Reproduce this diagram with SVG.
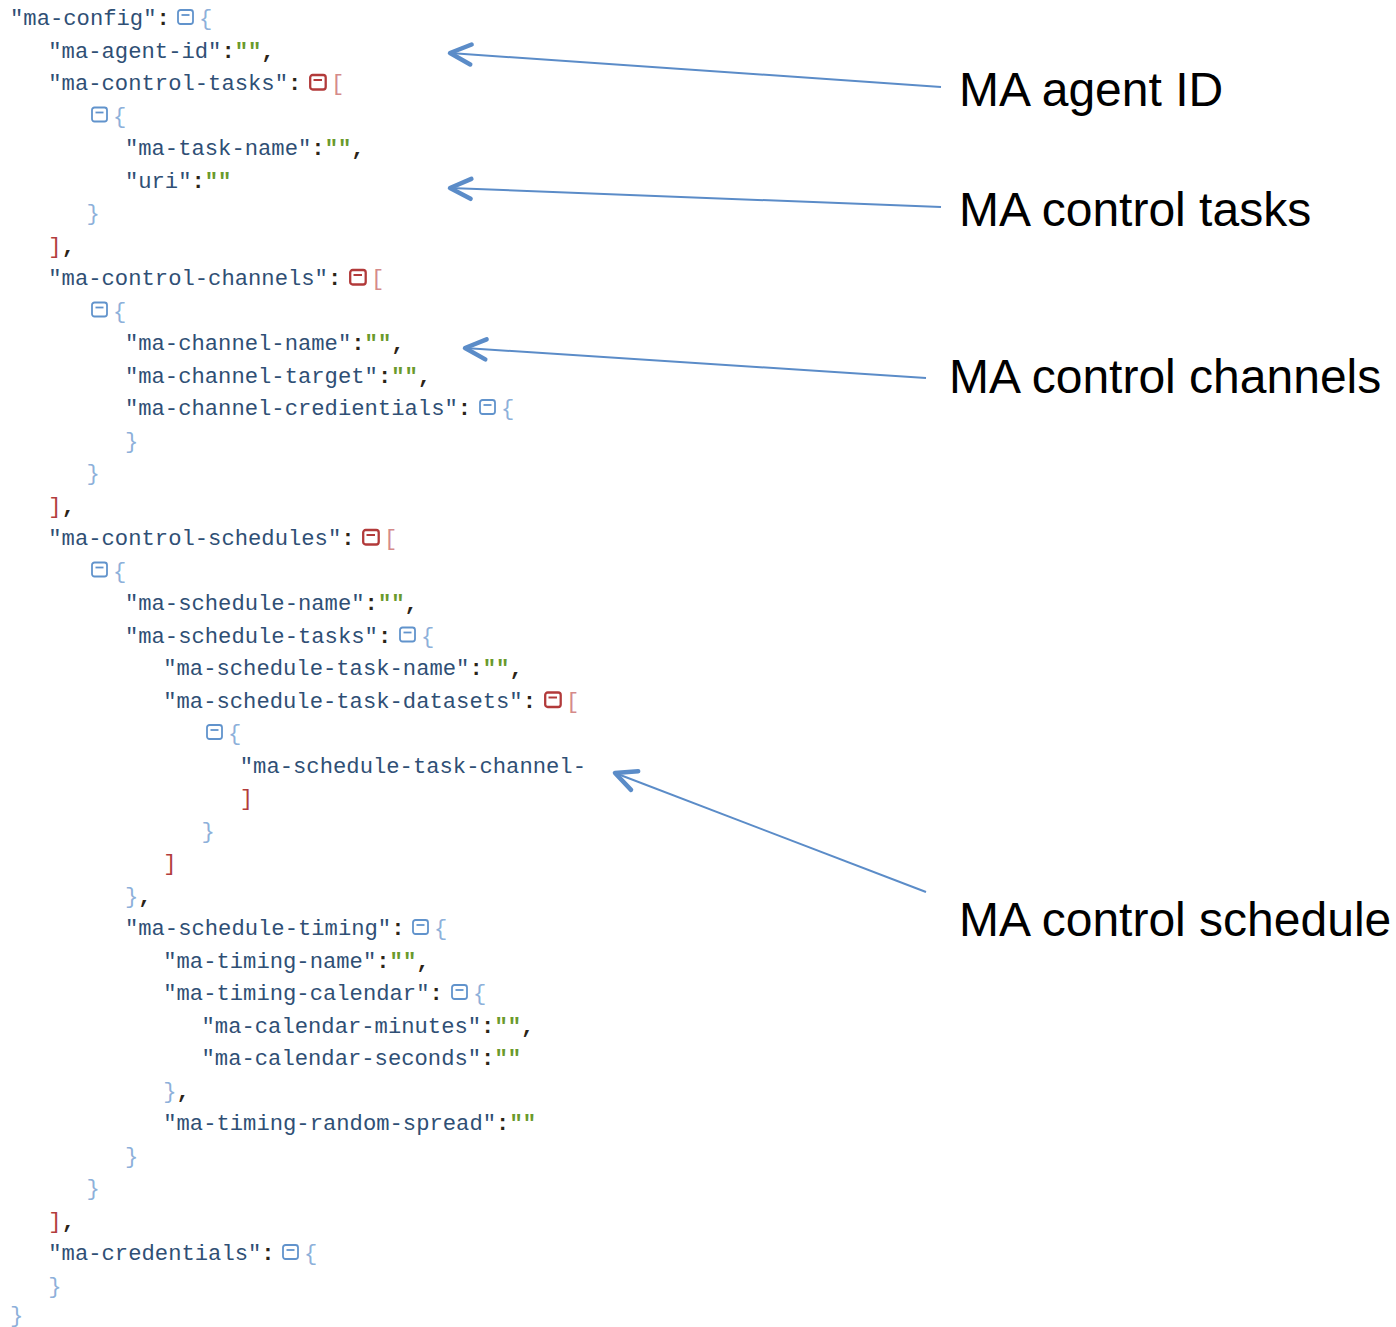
<svg xmlns="http://www.w3.org/2000/svg" xmlns:xlink="http://www.w3.org/1999/xlink" width="1396" height="1327" viewBox="0 0 1396 1327">
  <style>
    .code { font-family: "Liberation Mono", "Courier New", monospace; font-size: 22.2px; }
    .k { fill: #2f4f75; }
    .p { fill: #2b2418; font-weight: bold; }
    .s { fill: #6a9a2c; font-weight: bold; }
    .b { fill: #8db0da; }
    .r { fill: #b23c3c; }
    .ro { fill: #d58a8a; }
    .label { font-family: "Liberation Sans", Arial, sans-serif; font-size: 48px; fill: #000; }
    .conn { stroke: #5b8cc8; stroke-width: 2; fill: none; }
  </style>
  <defs>
    <!-- collapse toggles: object (blue) and array (red) -->
    <g id="tog-o">
      <rect x="1" y="1" width="15" height="14" rx="2.5" fill="#fff" stroke="#6193cc" stroke-width="1.8"/>
      <line x1="4.5" y1="6" x2="12.5" y2="6" stroke="#6193cc" stroke-width="1.8"/>
    </g>
    <g id="tog-a">
      <rect x="1.2" y="1" width="15.5" height="14.5" rx="2.5" fill="#fff" stroke="#b23a3a" stroke-width="2.3"/>
      <line x1="4.5" y1="6" x2="13" y2="6" stroke="#b23a3a" stroke-width="2"/>
    </g>
    <marker id="chev" viewBox="-28 -14 32 28" refX="0" refY="0" markerWidth="32" markerHeight="28" markerUnits="userSpaceOnUse" orient="auto" overflow="visible">
      <path d="M -21,-10 L 0,0 L -21,10" fill="none" stroke="#5b8cc8" stroke-width="4.5" stroke-linecap="round" stroke-linejoin="round"/>
    </marker>
  </defs>

  <rect width="1396" height="1327" fill="#fff"/>

  <!-- JSON tree -->
  <g id="json-tree" class="code">
    <text x="10" y="25"><tspan class="k">"ma-config"</tspan><tspan class="p">:</tspan></text>
    <use xlink:href="#tog-o" x="177" y="9"/>
    <text x="199" y="25" class="b">{</text>

    <text x="48.3" y="57.5"><tspan class="k">"ma-agent-id"</tspan><tspan class="p">:</tspan><tspan class="s">""</tspan><tspan class="p">,</tspan></text>

    <text x="48.3" y="90"><tspan class="k">"ma-control-tasks"</tspan><tspan class="p">:</tspan></text>
    <use xlink:href="#tog-a" x="309" y="74"/>
    <text x="331" y="90" class="ro">[</text>

    <use xlink:href="#tog-o" x="91" y="106.5"/>
    <text x="113" y="122.5" class="b">{</text>

    <text x="124.9" y="155"><tspan class="k">"ma-task-name"</tspan><tspan class="p">:</tspan><tspan class="s">""</tspan><tspan class="p">,</tspan></text>
    <text x="124.9" y="187.5"><tspan class="k">"uri"</tspan><tspan class="p">:</tspan><tspan class="s">""</tspan></text>
    <text x="86.6" y="220" class="b">}</text>
    <text x="48.3" y="252.5"><tspan class="r">]</tspan><tspan class="p">,</tspan></text>

    <text x="48.3" y="285"><tspan class="k">"ma-control-channels"</tspan><tspan class="p">:</tspan></text>
    <use xlink:href="#tog-a" x="349" y="269"/>
    <text x="371" y="285" class="ro">[</text>

    <use xlink:href="#tog-o" x="91" y="301.5"/>
    <text x="113" y="317.5" class="b">{</text>

    <text x="124.9" y="350"><tspan class="k">"ma-channel-name"</tspan><tspan class="p">:</tspan><tspan class="s">""</tspan><tspan class="p">,</tspan></text>
    <text x="124.9" y="382.5"><tspan class="k">"ma-channel-target"</tspan><tspan class="p">:</tspan><tspan class="s">""</tspan><tspan class="p">,</tspan></text>
    <text x="124.9" y="415"><tspan class="k">"ma-channel-credientials"</tspan><tspan class="p">:</tspan></text>
    <use xlink:href="#tog-o" x="479" y="399"/>
    <text x="501" y="415" class="b">{</text>
    <text x="124.9" y="447.5" class="b">}</text>
    <text x="86.6" y="480" class="b">}</text>
    <text x="48.3" y="512.5"><tspan class="r">]</tspan><tspan class="p">,</tspan></text>

    <text x="48.3" y="545"><tspan class="k">"ma-control-schedules"</tspan><tspan class="p">:</tspan></text>
    <use xlink:href="#tog-a" x="362" y="529"/>
    <text x="384" y="545" class="ro">[</text>

    <use xlink:href="#tog-o" x="91" y="561.5"/>
    <text x="113" y="577.5" class="b">{</text>

    <text x="124.9" y="610"><tspan class="k">"ma-schedule-name"</tspan><tspan class="p">:</tspan><tspan class="s">""</tspan><tspan class="p">,</tspan></text>
    <text x="124.9" y="642.5"><tspan class="k">"ma-schedule-tasks"</tspan><tspan class="p">:</tspan></text>
    <use xlink:href="#tog-o" x="399" y="626.5"/>
    <text x="421" y="642.5" class="b">{</text>

    <text x="163.2" y="675"><tspan class="k">"ma-schedule-task-name"</tspan><tspan class="p">:</tspan><tspan class="s">""</tspan><tspan class="p">,</tspan></text>
    <text x="163.2" y="707.5"><tspan class="k">"ma-schedule-task-datasets"</tspan><tspan class="p">:</tspan></text>
    <use xlink:href="#tog-a" x="544" y="691.5"/>
    <text x="566" y="707.5" class="ro">[</text>

    <use xlink:href="#tog-o" x="206" y="724"/>
    <text x="228" y="740" class="b">{</text>

    <text x="239.8" y="772.5" class="k">"ma-schedule-task-channel-</text>
    <text x="239.8" y="805" class="r">]</text>
    <text x="201.5" y="837.5" class="b">}</text>
    <text x="163.2" y="870" class="r">]</text>
    <text x="124.9" y="902.5"><tspan class="b">}</tspan><tspan class="p">,</tspan></text>

    <text x="124.9" y="935"><tspan class="k">"ma-schedule-timing"</tspan><tspan class="p">:</tspan></text>
    <use xlink:href="#tog-o" x="412" y="919"/>
    <text x="434" y="935" class="b">{</text>

    <text x="163.2" y="967.5"><tspan class="k">"ma-timing-name"</tspan><tspan class="p">:</tspan><tspan class="s">""</tspan><tspan class="p">,</tspan></text>
    <text x="163.2" y="1000"><tspan class="k">"ma-timing-calendar"</tspan><tspan class="p">:</tspan></text>
    <use xlink:href="#tog-o" x="451" y="984"/>
    <text x="473" y="1000" class="b">{</text>

    <text x="201.5" y="1032.5"><tspan class="k">"ma-calendar-minutes"</tspan><tspan class="p">:</tspan><tspan class="s">""</tspan><tspan class="p">,</tspan></text>
    <text x="201.5" y="1065"><tspan class="k">"ma-calendar-seconds"</tspan><tspan class="p">:</tspan><tspan class="s">""</tspan></text>
    <text x="163.2" y="1097.5"><tspan class="b">}</tspan><tspan class="p">,</tspan></text>
    <text x="163.2" y="1130"><tspan class="k">"ma-timing-random-spread"</tspan><tspan class="p">:</tspan><tspan class="s">""</tspan></text>
    <text x="124.9" y="1162.5" class="b">}</text>
    <text x="86.6" y="1195" class="b">}</text>
    <text x="48.3" y="1227.5"><tspan class="r">]</tspan><tspan class="p">,</tspan></text>

    <text x="48.3" y="1260"><tspan class="k">"ma-credentials"</tspan><tspan class="p">:</tspan></text>
    <use xlink:href="#tog-o" x="282" y="1244"/>
    <text x="304" y="1260" class="b">{</text>
    <text x="48.3" y="1292.5" class="b">}</text>
    <text x="10" y="1322" class="b">}</text>
  </g>

  <!-- callout labels -->
  <g id="label-agent-id"><text class="label" x="959" y="106">MA agent ID</text></g>
  <g id="label-control-tasks"><text class="label" x="959" y="226">MA control tasks</text></g>
  <g id="label-control-channels"><text class="label" x="949" y="393">MA control channels</text></g>
  <g id="label-control-schedule"><text class="label" x="959" y="936">MA control schedule</text></g>

  <!-- connectors -->
  <g id="connectors" class="conn">
    <line x1="941" y1="87" x2="450" y2="53" marker-end="url(#chev)"/>
    <line x1="941" y1="207" x2="450" y2="188" marker-end="url(#chev)"/>
    <line x1="926" y1="378" x2="465" y2="348" marker-end="url(#chev)"/>
    <line x1="926" y1="892" x2="615" y2="773" marker-end="url(#chev)"/>
  </g>
</svg>
